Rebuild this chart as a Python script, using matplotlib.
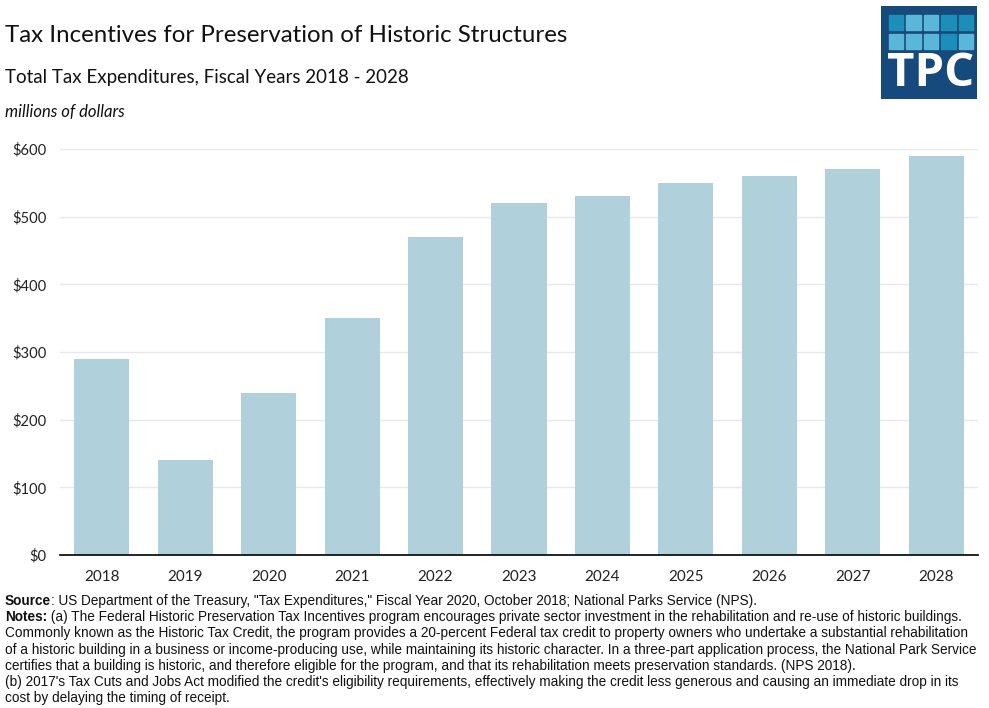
import matplotlib
matplotlib.use("Agg")
import matplotlib.pyplot as plt
from matplotlib.patches import Rectangle

years = ["2018", "2019", "2020", "2021", "2022", "2023", "2024", "2025", "2026", "2027", "2028"]
values = [290, 140, 240, 350, 470, 520, 530, 550, 560, 570, 590]
yticks = [0, 100, 200, 300, 400, 500, 600]
ytick_labels = ["$0", "$100", "$200", "$300", "$400", "$500", "$600"]

title = "Tax Incentives for Preservation of Historic Structures"
subtitle = "Total Tax Expenditures, Fiscal Years 2018 - 2028"
unit = "millions of dollars"

W, H = 989, 708
fig = plt.figure(figsize=(W / 100, H / 100), dpi=100)
fig.patch.set_facecolor("white")

main_font = ["Lato", "DejaVu Sans"]
narrow_font = ["Liberation Sans Narrow", "Liberation Sans", "DejaVu Sans"]

def fx(px):
    return px / W

def fy(py):
    return 1 - py / H

ax = fig.add_axes([fx(60), fy(555), fx(978) - fx(60), fy(149) - fy(555)])
x = list(range(len(years)))
ax.bar(x, values, width=0.66, color="#b0d0dc", zorder=2)
ax.set_xlim(-0.5, len(years) - 0.5)
ax.set_ylim(0, 600)
ax.set_yticks(yticks)
ax.set_yticklabels(ytick_labels)
ax.set_xticks(x)
ax.set_xticklabels(years)
ax.grid(axis="y", color="#e8e8e8", linewidth=1, zorder=0)
ax.set_axisbelow(True)
for s in ["top", "right", "left"]:
    ax.spines[s].set_visible(False)
ax.spines["bottom"].set_color("black")
ax.spines["bottom"].set_linewidth(1.2)
ax.spines["bottom"].set_zorder(3)
ax.tick_params(axis="both", length=0, labelsize=11, colors="#222222")
ax.tick_params(axis="y", pad=9.5, labelsize=10.6)
ax.tick_params(axis="x", pad=10.5)
for lab in ax.get_xticklabels() + ax.get_yticklabels():
    lab.set_fontfamily(main_font)

fig.text(fx(5), fy(36), title, fontsize=17.3, family=main_font, va="center", ha="left", color="#111111")
fig.text(fx(5), fy(77), subtitle, fontsize=13.5, family=main_font, va="center", ha="left", color="#111111")
fig.text(fx(5), fy(112), unit, fontsize=12, family=main_font, style="italic", va="center", ha="left", color="#111111")

lines = [
    ("Source", ": US Department of the Treasury, \"Tax Expenditures,\" Fiscal Year 2020, October 2018; National Parks Service (NPS)."),
    ("Notes:", " (a) The Federal Historic Preservation Tax Incentives program encourages private sector investment in the rehabilitation and re-use of historic buildings."),
    ("", "Commonly known as the Historic Tax Credit, the program provides a 20-percent Federal tax credit to property owners who undertake a substantial rehabilitation"),
    ("", "of a historic building in a business or income-producing use, while maintaining its historic character. In a three-part application process, the National Park Service"),
    ("", "certifies that a building is historic, and therefore eligible for the program, and that its rehabilitation meets preservation standards. (NPS 2018)."),
    ("", "(b) 2017's Tax Cuts and Jobs Act modified the credit's eligibility requirements, effectively making the credit less generous and causing an immediate drop in its"),
    ("", "cost by delaying the timing of receipt."),
]
fig.canvas.draw()
renderer = fig.canvas.get_renderer()
y0 = 601
for i, (bold, rest) in enumerate(lines):
    ypx = y0 + i * 16.2
    xstart = fx(5)
    if bold:
        t = fig.text(xstart, fy(ypx), bold, fontsize=9.8, family=narrow_font, weight="bold",
                     va="center", ha="left", color="#111111")
        bb = t.get_window_extent(renderer=renderer)
        xstart = bb.x1 / W
    fig.text(xstart, fy(ypx), rest, fontsize=9.8, family=narrow_font, va="center", ha="left", color="#111111")

# TPC logo
lax = fig.add_axes([fx(881), fy(99), fx(977) - fx(881), fy(6) - fy(99)])
lax.set_xlim(881, 977)
lax.set_ylim(99, 6)
lax.axis("off")
lax.add_patch(Rectangle((881, 6), 96, 93, color="#174a7c"))
dark = "#1b8fba"
light = "#5ab7d9"
pattern = [[dark, light, light, dark, dark], [light, light, light, dark, light]]
sq_w = 14.4
gap = 3.0
row_y = [15, 33.5]
for r, row in enumerate(pattern):
    for c, col in enumerate(row):
        lax.add_patch(Rectangle((889 + c * (sq_w + gap), row_y[r]), sq_w, 15, color=col))
lax.text(930.5, 74, "TPC", color="white", fontsize=34, weight="bold", family=["Open Sans", "DejaVu Sans"],
         ha="center", va="center")

fig.savefig("out.png", dpi=100, facecolor="white")
